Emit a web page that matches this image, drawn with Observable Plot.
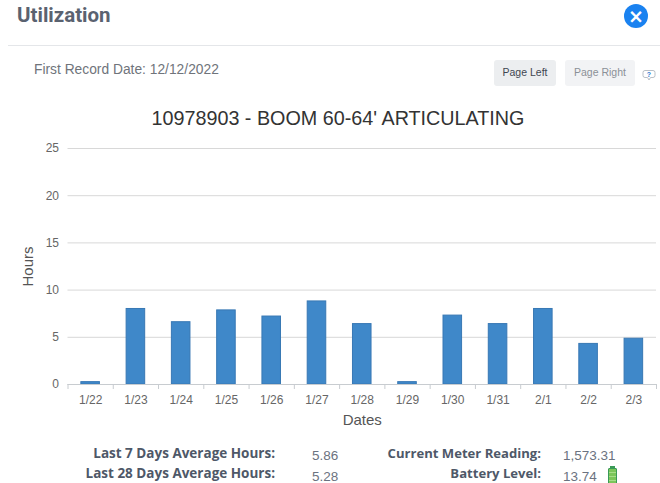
<!DOCTYPE html>
<html><head><meta charset="utf-8">
<script src="https://cdn.jsdelivr.net/npm/d3@7"></script>
<script src="https://cdn.jsdelivr.net/npm/@observablehq/plot@0.6"></script>
<style>
html,body{margin:0;padding:0;background:#fff;overflow:hidden}
#page{position:relative;width:660px;height:483px;font-family:"Liberation Sans",Arial,sans-serif;overflow:hidden}
#page>div,#page>svg{position:absolute}
.t{white-space:nowrap;line-height:1}
.lab{font-family:"Open Sans","Liberation Sans",sans-serif;font-weight:700;font-size:13.5px;color:#4e5868;text-align:right}
.lab2{font-size:13.1px}
.val{font-family:"Liberation Sans",Arial,sans-serif;font-size:13.5px;color:#6b7280}
.btn{border-radius:3px;font-size:10.5px;text-align:center;line-height:25px;height:26px}
#chart{left:0;top:100px}
</style></head><body>
<div id="page">
  <div class="t" style="left:17px;top:5px;font-family:Roboto,sans-serif;font-weight:700;font-size:20.5px;color:#5a6270">Utilization</div>
  <div style="left:624px;top:4px;width:24px;height:24px;border-radius:50%;background:#1a82f0"></div>
  <div class="t" style="left:624px;top:5px;width:24px;text-align:center;color:#fff;font-weight:700;font-size:19px;line-height:22px;font-family:'DejaVu Sans',sans-serif">×</div>
  <div style="left:8px;top:45px;width:652px;height:1px;background:#e4e6e9"></div>
  <div class="t" style="left:34px;top:63px;font-size:13.8px;color:#6f747b">First Record Date: 12/12/2022</div>
  <div class="btn t" style="left:494px;top:60px;width:62px;background:#eceef0;color:#3f4650">Page Left</div>
  <div class="btn t" style="left:565px;top:60px;width:70px;background:#f2f3f5;color:#8b9097">Page Right</div>
  <svg style="left:642px;top:69px" width="14" height="13" viewBox="0 0 14 13"><path d="M3 1.5h8a2 2 0 0 1 2 2v3a2 2 0 0 1-2 2H8.5L7 11 5.5 8.5H3a2 2 0 0 1-2-2v-3a2 2 0 0 1 2-2z" fill="#fff" stroke="#b9bfc6"/><text x="7" y="7.6" text-anchor="middle" font-size="7" font-weight="700" fill="#2a78d0" font-family="Liberation Sans">?</text></svg>
  <div class="t" style="left:0;top:109px;width:676px;text-align:center;font-size:19.75px;color:#333">10978903 - BOOM 60-64' ARTICULATING</div>
  <div id="chart"></div>
  <div class="t lab" style="right:385px;top:447px">Last 7 Days Average Hours:</div>
  <div class="t lab" style="right:385px;top:467px">Last 28 Days Average Hours:</div>
  <div class="t val" style="left:312px;top:449px">5.86</div>
  <div class="t val" style="left:312px;top:469.5px">5.28</div>
  <div class="t lab lab2" style="right:119px;top:447px">Current Meter Reading:</div>
  <div class="t lab lab2" style="right:119px;top:467px">Battery Level:</div>
  <div class="t val" style="left:563px;top:449px">1,573.31</div>
  <div class="t val" style="left:563px;top:469.5px">13.74</div>
  <div style="left:608px;top:468px;width:7px;height:14px;border:1px solid #3a9a57;border-radius:1px;background:repeating-linear-gradient(#7cc65a 0 3px,#a7dd8a 3px 4px)"></div>
  <div style="left:610px;top:466px;width:5px;height:2px;background:#3a9a57"></div>
</div>
<script>
const dates = ["1/22","1/23","1/24","1/25","1/26","1/27","1/28","1/29","1/30","1/31","2/1","2/2","2/3"];
const hours = [0.25,8.0,6.6,7.85,7.2,8.8,6.4,0.25,7.3,6.4,8.0,4.3,4.85];
const yTicks = [0,5,10,15,20,25];
const table = dates.map((d,i)=>({date:d,hours:hours[i]}));
const halfBand = (656-67.5)/dates.length/2;
const plot = Plot.plot({
  width:660,height:340,
  marginLeft:67.5,marginRight:4,marginTop:48,marginBottom:56,
  style:{fontFamily:"Liberation Sans, Arial, sans-serif",background:"transparent",overflow:"visible"},
  x:{domain:dates,paddingInner:0.59,paddingOuter:0.295,round:false,label:null},
  y:{domain:[0,25],ticks:yTicks,label:null},
  marks:[
    Plot.gridY(yTicks,{stroke:"#d8d8d8",strokeOpacity:1}),
    Plot.barY(table,{x:"date",y:"hours",fill:"#3f88c9",stroke:"#3878b4",strokeWidth:1}),
    Plot.ruleY([0],{stroke:"#c8ccd0"}),
    Plot.axisY({ticks:yTicks,tickSize:0,tickPadding:9,fontSize:12,color:"#666",label:"Hours",labelAnchor:"center",labelArrow:"none",labelOffset:46}),
    Plot.axisX({tickSize:0,tickPadding:11,fontSize:12,color:"#666",label:"Dates",labelAnchor:"center",labelArrow:"none",labelOffset:40}),
    Plot.axisX({text:null,label:null,tickSize:5,stroke:"#c8ccd0",dx:-halfBand}),
    Plot.axisX({ticks:[dates[dates.length-1]],text:null,label:null,tickSize:5,stroke:"#c8ccd0",dx:halfBand})
  ]
});
document.getElementById("chart").append(plot);
plot.querySelectorAll('[aria-label="x-axis label"],[aria-label="y-axis label"]').forEach(g=>{g.setAttribute("font-size","15");g.setAttribute("fill","#555");});
</script>
</body></html>
